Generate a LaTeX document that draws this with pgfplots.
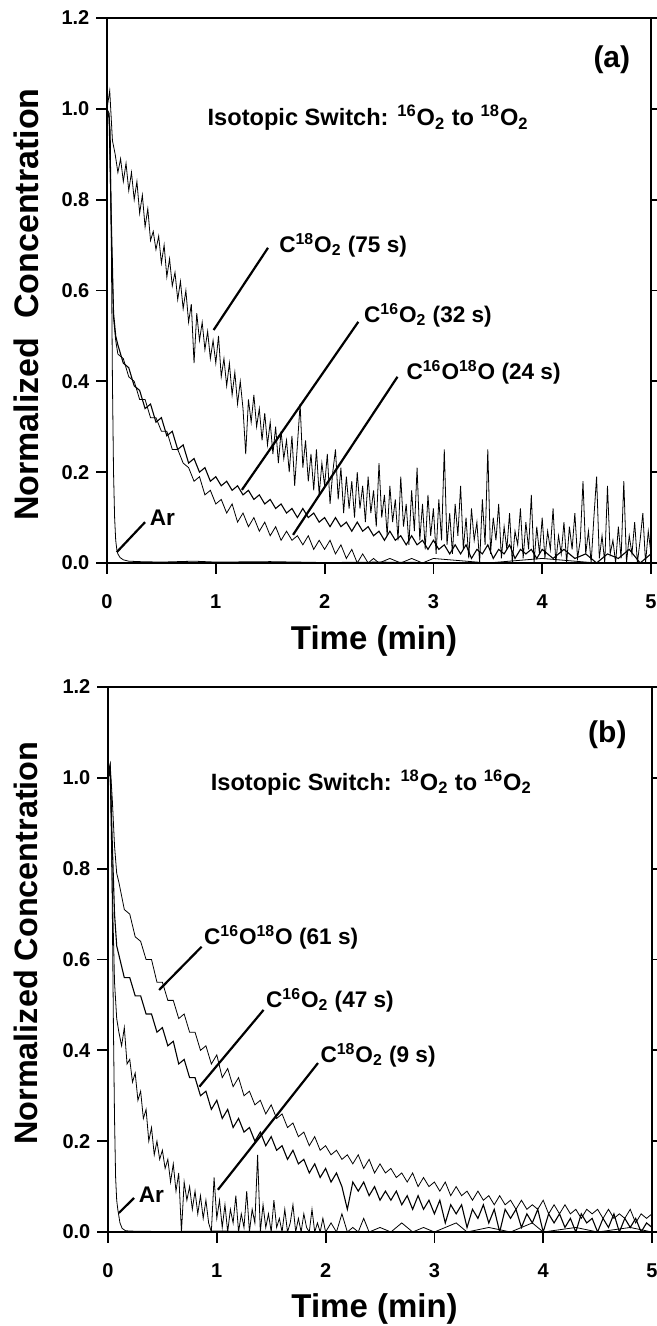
\documentclass[border=0pt]{standalone}
\usepackage{fontspec}
\setmainfont{Liberation Sans}
\setsansfont{Liberation Sans}
\usepackage{pgfplots}
\pgfplotsset{compat=1.18}

\newcommand\fs[1]{\fontsize{#1}{#1}\selectfont\bfseries}
\newcommand\sbs[1]{\textsubscript{#1}}
\newcommand\sps[1]{\textsuperscript{#1}}

\pgfplotsset{
  panel/.style={
    width=272pt, height=272.5pt, scale only axis,
    xmin=0, xmax=5, ymin=0, ymax=1.2,
    xtick={0,1,2,3,4,5}, ytick={0,0.2,0.4,0.6,0.8,1.0,1.2},
    tick align=outside, xtick pos=bottom, ytick pos=both, yticklabel pos=left,
    major tick length=5.3pt, minor tick num=0,
    axis line style={line width=0.9pt},
    every tick/.style={black, line width=0.9pt},
    /pgf/number format/assume math mode=true,
    tick label style={font=\fs{10}},
    y tick label style={/pgf/number format/.cd, fixed, fixed zerofill, precision=1},
    x tick label style={yshift=-7pt},
    label style={font=\fs{16.5}},
    cycle list={{black, no markers, line width=0.55pt}},
    clip=true,
  },
}
\tikzset{
  lead/.style={black, line width=1.1pt},
  ann/.style={font=\fs{11.3}, anchor=west, inner sep=0pt},
}

\begin{document}
\begin{tikzpicture}
\path[use as bounding box] (-53.5pt,-381.5pt) rectangle (275pt,281.5pt);

% ---------------- panel (a)
\begin{axis}[panel, at={(0pt,0pt)}, anchor=south west,
  xlabel={Time (min)},
  ylabel={Normalized\ \ Concentration},
  xlabel style={at={(axis description cs:0.491,-0.143)}, anchor=center},
  ylabel style={at={(axis description cs:-0.149,0.474)}, anchor=center, font=\fs{17}},
]
% Ar
\addplot coordinates {(0,0.98)(0.01,0.99)(0.02,0.98)(0.03,0.95)(0.04,0.70)(0.05,0.40)(0.06,0.20)(0.07,0.10)(0.08,0.05)(0.09,0.03)(0.10,0.02)(0.12,0.012)(0.15,0.007)(0.2,0.004)(0.3,0.003)(0.5,0.002)(0.8,0.004)(1.0,0.002)(1.5,0.003)(2,0.001)(2.5,0.002)(3,0.001)(5,0.001)};
% C18O2 (75 s)
\addplot coordinates {
(0.000,1.00)(0.025,1.04)(0.050,0.93)(0.075,0.90)(0.100,0.86)(0.125,0.89)(0.150,0.84)(0.175,0.88)(0.200,0.82)(0.225,0.86)
(0.250,0.80)(0.275,0.84)(0.300,0.77)(0.325,0.81)(0.350,0.74)(0.375,0.78)(0.400,0.71)(0.425,0.73)(0.450,0.69)(0.475,0.72)
(0.500,0.66)(0.525,0.70)(0.550,0.63)(0.575,0.67)(0.600,0.61)(0.625,0.64)(0.650,0.58)(0.675,0.62)(0.700,0.56)(0.725,0.60)
(0.750,0.53)(0.775,0.57)(0.800,0.44)(0.825,0.55)(0.850,0.49)(0.875,0.53)(0.900,0.47)(0.925,0.51)(0.950,0.45)(0.975,0.49)
(1.000,0.44)(1.025,0.50)(1.050,0.41)(1.075,0.45)(1.100,0.39)(1.125,0.44)(1.150,0.37)(1.175,0.42)(1.200,0.35)(1.225,0.40)
(1.250,0.34)(1.275,0.24)(1.300,0.36)(1.325,0.31)(1.350,0.37)(1.375,0.30)(1.400,0.34)(1.425,0.27)(1.450,0.33)(1.475,0.26)
(1.500,0.31)(1.525,0.24)(1.550,0.30)(1.575,0.22)(1.600,0.29)(1.625,0.23)(1.650,0.27)(1.675,0.20)(1.700,0.28)(1.725,0.17)
(1.750,0.26)(1.775,0.35)(1.800,0.21)(1.825,0.27)(1.850,0.18)(1.875,0.24)(1.900,0.16)(1.925,0.25)(1.950,0.15)(1.975,0.22)
(2.000,0.17)(2.025,0.24)(2.050,0.13)(2.075,0.20)(2.100,0.25)(2.125,0.14)(2.150,0.21)(2.175,0.11)(2.200,0.19)(2.225,0.12)
(2.250,0.18)(2.275,0.10)(2.300,0.20)(2.325,0.12)(2.350,0.17)(2.375,0.09)(2.400,0.19)(2.425,0.11)(2.450,0.16)(2.475,0.08)
(2.500,0.22)(2.525,0.10)(2.550,0.15)(2.575,0.06)(2.600,0.17)(2.625,0.09)(2.650,0.14)(2.675,0.05)(2.700,0.19)(2.725,0.08)
(2.750,0.13)(2.775,0.04)(2.800,0.16)(2.825,0.07)(2.850,0.21)(2.875,0.05)(2.900,0.13)(2.925,0.03)(2.950,0.15)(2.975,0.06)
(3.000,0.12)(3.025,0.02)(3.050,0.14)(3.075,0.05)(3.100,0.25)(3.125,0.04)(3.150,0.11)(3.175,0.02)(3.200,0.13)(3.225,0.06)
(3.250,0.17)(3.275,0.03)(3.300,0.10)(3.325,0.01)(3.350,0.12)(3.375,0.05)(3.400,0.09)(3.425,0.00)(3.450,0.14)(3.475,0.04)
(3.500,0.25)(3.525,0.02)(3.550,0.10)(3.575,0.05)(3.600,0.13)(3.625,0.01)(3.650,0.08)(3.675,0.03)(3.700,0.11)(3.725,0.00)
(3.750,0.07)(3.775,0.04)(3.800,0.12)(3.825,0.01)(3.850,0.09)(3.875,0.03)(3.900,0.15)(3.925,0.00)(3.950,0.08)(3.975,0.02)
(4.000,0.10)(4.025,0.01)(4.050,0.07)(4.075,0.03)(4.100,0.12)(4.125,0.00)(4.150,0.06)(4.175,0.02)(4.200,0.09)(4.225,0.00)
(4.250,0.08)(4.275,0.03)(4.300,0.11)(4.325,0.01)(4.350,0.05)(4.375,0.18)(4.400,0.02)(4.425,0.07)(4.450,0.00)(4.475,0.10)
(4.500,0.19)(4.525,0.01)(4.550,0.06)(4.575,0.00)(4.600,0.17)(4.625,0.02)(4.650,0.05)(4.675,0.00)(4.700,0.08)(4.725,0.01)
(4.750,0.18)(4.775,0.00)(4.800,0.06)(4.825,0.02)(4.850,0.09)(4.875,0.00)(4.900,0.05)(4.925,0.11)(4.950,0.00)(4.975,0.07)
(5.000,0.02)};
% C16O2 (32 s)
\addplot coordinates {
(0.00,1.00)(0.02,0.98)(0.04,0.75)(0.06,0.55)(0.08,0.50)(0.10,0.48)(0.15,0.44)(0.20,0.43)(0.25,0.39)(0.30,0.38)
(0.35,0.34)(0.40,0.35)(0.45,0.31)(0.50,0.32)(0.55,0.28)(0.60,0.29)(0.65,0.25)(0.70,0.26)(0.75,0.22)(0.80,0.23)
(0.85,0.20)(0.90,0.21)(0.95,0.18)(1.00,0.19)(1.05,0.17)(1.10,0.18)(1.15,0.16)(1.20,0.17)(1.25,0.15)(1.30,0.16)
(1.35,0.14)(1.40,0.15)(1.45,0.13)(1.50,0.14)(1.55,0.12)(1.60,0.13)(1.65,0.11)(1.70,0.12)(1.75,0.10)(1.80,0.12)
(1.85,0.10)(1.90,0.11)(1.95,0.09)(2.00,0.10)(2.05,0.08)(2.10,0.10)(2.15,0.08)(2.20,0.09)(2.25,0.07)(2.30,0.09)
(2.35,0.07)(2.40,0.08)(2.45,0.06)(2.50,0.07)(2.55,0.05)(2.60,0.07)(2.65,0.05)(2.70,0.06)(2.75,0.04)(2.80,0.06)
(2.85,0.04)(2.90,0.05)(2.95,0.03)(3.00,0.05)(3.05,0.03)(3.10,0.04)(3.15,0.02)(3.20,0.04)(3.25,0.02)(3.30,0.04)
(3.35,0.01)(3.40,0.03)(3.45,0.02)(3.50,0.04)(3.55,0.01)(3.60,0.03)(3.65,0.02)(3.70,0.04)(3.75,0.01)(3.80,0.03)
(3.85,0.02)(3.90,0.03)(3.95,0.01)(4.00,0.03)(4.10,0.01)(4.20,0.03)(4.30,0.01)(4.40,0.02)(4.50,0.00)(4.60,0.02)
(4.70,0.01)(4.80,0.03)(4.90,0.00)(5.00,0.02)};
% C16O18O (24 s)
\addplot coordinates {
(0.00,1.00)(0.02,0.99)(0.04,0.72)(0.06,0.54)(0.08,0.49)(0.10,0.46)(0.15,0.45)(0.20,0.41)(0.25,0.40)(0.30,0.36)
(0.35,0.36)(0.40,0.32)(0.45,0.32)(0.50,0.29)(0.55,0.29)(0.60,0.25)(0.65,0.25)(0.70,0.22)(0.75,0.21)(0.80,0.18)
(0.85,0.19)(0.90,0.15)(0.95,0.16)(1.00,0.13)(1.05,0.14)(1.10,0.11)(1.15,0.13)(1.20,0.09)(1.25,0.11)(1.30,0.08)
(1.35,0.10)(1.40,0.07)(1.45,0.09)(1.50,0.06)(1.55,0.08)(1.60,0.05)(1.65,0.07)(1.70,0.05)(1.75,0.06)(1.80,0.04)
(1.85,0.06)(1.90,0.03)(1.95,0.05)(2.00,0.03)(2.05,0.05)(2.10,0.02)(2.15,0.04)(2.20,0.01)(2.25,0.03)(2.30,0.00)
(2.35,0.02)(2.40,0.00)(2.45,0.01)(2.50,0.00)(2.60,0.01)(2.70,0.00)(2.80,0.01)(2.90,0.00)(3.00,0.01)(3.50,0.00)
(4.00,0.01)(4.50,0.00)(5.00,0.00)};

\node[font=\fs{15}] at (axis cs:4.64,1.108) {(a)};
\node[font=\fs{11.8}] at (axis cs:2.40,0.98) {Isotopic Switch: \sps{16}O\sbs{2} to \sps{18}O\sbs{2}};
\node[ann] at (axis cs:1.58,0.70) {C\sps{18}O\sbs{2} (75 s)};
\draw[lead] (axis cs:1.48,0.694) -- (axis cs:0.98,0.513);
\node[ann] at (axis cs:2.36,0.546) {C\sps{16}O\sbs{2} (32 s)};
\draw[lead] (axis cs:2.31,0.531) -- (axis cs:1.24,0.161);
\node[ann] at (axis cs:2.75,0.42) {C\sps{16}O\sps{18}O (24 s)};
\draw[lead] (axis cs:2.67,0.41) -- (axis cs:1.71,0.062);
\node[ann] at (axis cs:0.39,0.10) {Ar};
\draw[lead] (axis cs:0.35,0.09) -- (axis cs:0.09,0.024);
\end{axis}

% ---------------- panel (b)
\begin{axis}[panel, at={(0.5pt,-334.5pt)}, anchor=south west,
  xlabel={Time (min)},
  ylabel={Normalized Concentration},
  xlabel style={at={(axis description cs:0.49,-0.141)}, anchor=center},
  ylabel style={at={(axis description cs:-0.151,0.530)}, anchor=center, font=\fs{16.2}},
]
% Ar
\addplot coordinates {(0,1.00)(0.01,1.02)(0.02,1.03)(0.03,0.95)(0.04,0.70)(0.05,0.45)(0.06,0.25)(0.07,0.12)(0.08,0.07)(0.09,0.05)(0.10,0.035)(0.11,0.02)(0.13,0.008)(0.16,0.003)(0.2,0.002)(0.5,0.001)(1,0.002)(2,0.001)(3,0.001)(5,0.001)};
% C16O18O (61 s)
\addplot coordinates {
(0.00,1.00)(0.02,1.03)(0.04,0.95)(0.06,0.85)(0.08,0.79)(0.10,0.77)(0.15,0.71)(0.20,0.70)(0.25,0.65)(0.30,0.64)
(0.35,0.60)(0.40,0.60)(0.45,0.55)(0.50,0.55)(0.55,0.51)(0.60,0.51)(0.65,0.47)(0.70,0.48)(0.75,0.44)(0.80,0.44)
(0.85,0.40)(0.90,0.41)(0.95,0.37)(1.00,0.39)(1.05,0.34)(1.10,0.36)(1.15,0.32)(1.20,0.34)(1.25,0.30)(1.30,0.31)
(1.35,0.28)(1.40,0.29)(1.45,0.26)(1.50,0.28)(1.55,0.25)(1.60,0.26)(1.65,0.23)(1.70,0.24)(1.75,0.21)(1.80,0.22)
(1.85,0.19)(1.90,0.21)(1.95,0.18)(2.00,0.19)(2.05,0.17)(2.10,0.18)(2.15,0.16)(2.20,0.17)(2.25,0.15)(2.30,0.17)
(2.35,0.14)(2.40,0.16)(2.45,0.13)(2.50,0.15)(2.55,0.13)(2.60,0.14)(2.65,0.12)(2.70,0.13)(2.75,0.11)(2.80,0.13)
(2.85,0.10)(2.90,0.12)(2.95,0.10)(3.00,0.11)(3.05,0.09)(3.10,0.11)(3.15,0.08)(3.20,0.10)(3.25,0.08)(3.30,0.09)
(3.35,0.07)(3.40,0.09)(3.45,0.07)(3.50,0.08)(3.55,0.06)(3.60,0.08)(3.65,0.06)(3.70,0.07)(3.75,0.05)(3.80,0.07)
(3.85,0.05)(3.90,0.06)(3.95,0.05)(4.00,0.07)(4.05,0.04)(4.10,0.06)(4.15,0.04)(4.20,0.06)(4.25,0.04)(4.30,0.05)
(4.35,0.03)(4.40,0.05)(4.45,0.04)(4.50,0.05)(4.55,0.03)(4.60,0.05)(4.65,0.03)(4.70,0.04)(4.75,0.03)(4.80,0.05)
(4.85,0.02)(4.90,0.04)(4.95,0.03)(5.00,0.04)};
% C16O2 (47 s)
\addplot coordinates {
(0.00,1.00)(0.02,1.02)(0.04,0.85)(0.06,0.70)(0.08,0.63)(0.10,0.61)(0.15,0.56)(0.20,0.56)(0.25,0.52)(0.30,0.52)
(0.35,0.48)(0.40,0.48)(0.45,0.44)(0.50,0.45)(0.55,0.41)(0.60,0.42)(0.65,0.37)(0.70,0.38)(0.75,0.34)(0.80,0.34)
(0.85,0.30)(0.90,0.31)(0.95,0.27)(1.00,0.29)(1.05,0.25)(1.10,0.27)(1.15,0.23)(1.20,0.25)(1.25,0.22)(1.30,0.23)
(1.35,0.20)(1.40,0.22)(1.45,0.19)(1.50,0.21)(1.55,0.18)(1.60,0.19)(1.65,0.16)(1.70,0.18)(1.75,0.15)(1.80,0.16)
(1.85,0.13)(1.90,0.15)(1.95,0.12)(2.00,0.14)(2.05,0.11)(2.10,0.13)(2.15,0.10)(2.20,0.05)(2.25,0.11)(2.30,0.09)
(2.35,0.11)(2.40,0.08)(2.45,0.10)(2.50,0.07)(2.55,0.09)(2.60,0.07)(2.65,0.09)(2.70,0.06)(2.75,0.08)(2.80,0.05)
(2.85,0.08)(2.90,0.05)(2.95,0.07)(3.00,0.04)(3.05,0.07)(3.10,0.02)(3.15,0.06)(3.20,0.04)(3.25,0.06)(3.30,0.01)
(3.35,0.05)(3.40,0.03)(3.45,0.06)(3.50,0.02)(3.55,0.05)(3.60,0.00)(3.65,0.05)(3.70,0.03)(3.75,0.05)(3.80,0.01)
(3.85,0.04)(3.90,0.02)(3.95,0.05)(4.00,0.00)(4.05,0.04)(4.10,0.02)(4.15,0.04)(4.20,0.01)(4.25,0.03)(4.30,0.00)
(4.35,0.04)(4.40,0.02)(4.45,0.03)(4.50,0.00)(4.55,0.03)(4.60,0.01)(4.65,0.04)(4.70,0.00)(4.75,0.03)(4.80,0.01)
(4.85,0.03)(4.90,0.00)(4.95,0.02)(5.00,0.01)};
% C18O2 (9 s)
\addplot coordinates {
(0.000,1.00)(0.020,1.01)(0.040,0.75)(0.060,0.55)(0.080,0.47)(0.100,0.44)(0.125,0.41)(0.150,0.45)(0.175,0.37)(0.200,0.38)
(0.225,0.33)(0.250,0.35)(0.275,0.29)(0.300,0.31)(0.325,0.25)(0.350,0.27)(0.375,0.20)(0.400,0.23)(0.425,0.17)(0.450,0.20)
(0.475,0.16)(0.500,0.18)(0.525,0.14)(0.550,0.16)(0.575,0.11)(0.600,0.15)(0.625,0.09)(0.650,0.13)(0.675,0.00)(0.700,0.11)
(0.725,0.07)(0.750,0.10)(0.775,0.05)(0.800,0.09)(0.825,0.04)(0.850,0.08)(0.875,0.03)(0.900,0.07)(0.925,0.02)(0.950,0.00)
(0.975,0.12)(1.000,0.03)(1.025,0.07)(1.050,0.01)(1.075,0.06)(1.100,0.00)(1.125,0.05)(1.150,0.02)(1.175,0.08)(1.200,0.00)
(1.225,0.04)(1.250,0.01)(1.275,0.09)(1.300,0.00)(1.325,0.05)(1.350,0.02)(1.375,0.17)(1.400,0.00)(1.425,0.06)(1.450,0.01)
(1.475,0.04)(1.500,0.00)(1.525,0.07)(1.550,0.01)(1.575,0.03)(1.600,0.00)(1.625,0.05)(1.650,0.00)(1.675,0.02)(1.700,0.06)
(1.725,0.00)(1.750,0.03)(1.775,0.00)(1.800,0.04)(1.825,0.01)(1.850,0.00)(1.875,0.05)(1.900,0.00)(1.925,0.02)(1.950,0.00)
(1.975,0.03)(2.000,0.00)(2.050,0.02)(2.100,0.00)(2.150,0.04)(2.200,0.00)(2.250,0.01)(2.300,0.00)(2.350,0.03)(2.400,0.00)
(2.500,0.01)(2.600,0.00)(2.700,0.02)(2.800,0.00)(2.900,0.01)(3.000,0.00)(3.200,0.02)(3.300,0.00)(3.500,0.01)(3.700,0.00)
(3.900,0.02)(4.000,0.00)(4.300,0.01)(4.500,0.00)(4.800,0.01)(5.000,0.00)};

\node[font=\fs{15}] at (axis cs:4.59,1.095) {(b)};
\node[font=\fs{11.8}] at (axis cs:2.42,0.99) {Isotopic Switch: \sps{18}O\sbs{2} to \sps{16}O\sbs{2}};
\node[ann] at (axis cs:0.88,0.648) {C\sps{16}O\sps{18}O (61 s)};
\draw[lead] (axis cs:0.86,0.628) -- (axis cs:0.47,0.533);
\node[ann] at (axis cs:1.45,0.511) {C\sps{16}O\sbs{2} (47 s)};
\draw[lead] (axis cs:1.43,0.489) -- (axis cs:0.84,0.32);
\node[ann] at (axis cs:1.95,0.39) {C\sps{18}O\sbs{2} (9 s)};
\draw[lead] (axis cs:1.93,0.372) -- (axis cs:1.01,0.093);
\node[ann] at (axis cs:0.28,0.081) {Ar};
\draw[lead] (axis cs:0.24,0.075) -- (axis cs:0.10,0.042);
\end{axis}
\end{tikzpicture}
\end{document}
